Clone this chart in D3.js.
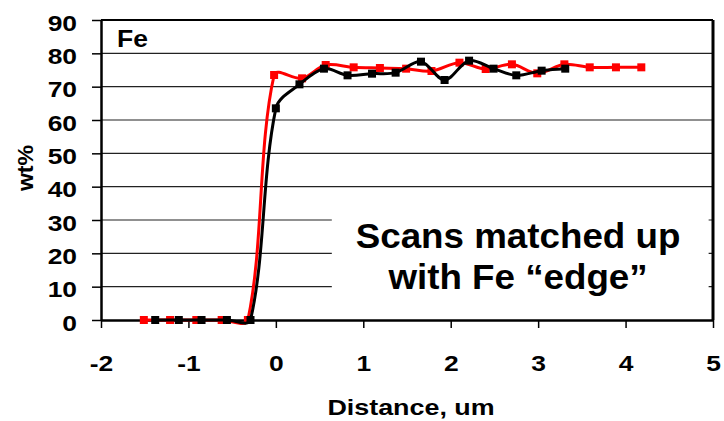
<!DOCTYPE html>
<html>
<head>
<meta charset="utf-8">
<script src="https://cdn.jsdelivr.net/npm/d3@7"></script>
<style>
  html, body { margin: 0; padding: 0; background: #fff; }
  svg { display: block; }
  text { font-family: "Liberation Sans", Arial, sans-serif; font-weight: bold; fill: #000; }
</style>
</head>
<body>
<svg id="chart" width="724" height="421"></svg>
<script>
// Fe concentration profiles across the edge (two scans, aligned at x = 0)
const scanBlackX = [-1.38, -1.11, -0.85, -0.56, -0.29, 0.00, 0.27, 0.55, 0.82, 1.10, 1.37, 1.66, 1.93, 2.21, 2.49, 2.75, 3.04, 3.31];
const scanBlackY = [0, 0, 0, 0, 0, 63.5, 70.7, 75.4, 73.4, 73.9, 74.2, 77.5, 72.0, 77.8, 75.4, 73.4, 74.8, 75.4];
const scanRedX = [-1.51, -1.21, -0.91, -0.62, -0.32, -0.02, 0.30, 0.57, 0.89, 1.19, 1.49, 1.78, 2.10, 2.40, 2.70, 2.99, 3.30, 3.59, 3.89, 4.18];
const scanRedY = [0, 0, 0, 0, 0, 73.5, 72.5, 76.5, 75.8, 75.6, 75.4, 74.7, 77.2, 75.3, 76.7, 74.0, 76.7, 75.8, 75.8, 75.8];
const xTicks = [-2, -1, 0, 1, 2, 3, 4, 5];
const yTicks = [0, 10, 20, 30, 40, 50, 60, 70, 80, 90];

const svg = d3.select("#chart");
const margin = { left: 101, top: 20, right: 11, bottom: 101 };
const W = 724 - margin.left - margin.right;
const H = 421 - margin.top - margin.bottom;

const x = d3.scaleLinear().domain([-2, 5]).range([0, W]);
const y = d3.scaleLinear().domain([0, 90]).range([H, 0]);

const g = svg.append("g").attr("transform", `translate(${margin.left},${margin.top})`);

// horizontal gridlines
g.append("g")
  .selectAll("line")
  .data(yTicks.filter(v => v > 0 && v < 90))
  .join("line")
  .attr("x1", 0).attr("x2", W)
  .attr("y1", d => y(d)).attr("y2", d => y(d))
  .attr("stroke", "#222").attr("stroke-width", 1.2);

// plot border (top and right)
g.append("line").attr("x1", 0).attr("x2", W).attr("y1", 0).attr("y2", 0)
  .attr("stroke", "#000").attr("stroke-width", 2);
g.append("line").attr("x1", W).attr("x2", W).attr("y1", 0).attr("y2", H)
  .attr("stroke", "#000").attr("stroke-width", 3);

// axes
const fontSize = 22, stretch = 1.2;
const hyphenFmt = d => String(d).replace("\u2212", "-");
const yAxis = d3.axisLeft(y).tickValues(yTicks).tickSize(9).tickSizeOuter(0).tickPadding(0).tickFormat(hyphenFmt);
const yg = g.append("g").call(yAxis);
yg.select(".domain").attr("stroke", "#000").attr("stroke-width", 2.5);
yg.selectAll(".tick line").attr("stroke", "#000").attr("stroke-width", 1.5);
yg.selectAll(".tick text")
  .attr("x", null).attr("dy", null)
  .attr("text-anchor", "end")
  .attr("font-size", fontSize)
  .attr("transform", `translate(-24,10) scale(${stretch},1)`);

const xAxis = d3.axisBottom(x).tickValues(xTicks).tickSize(8).tickSizeOuter(0).tickPadding(0).tickFormat(hyphenFmt);
const xg = g.append("g").attr("transform", `translate(0,${H})`).call(xAxis);
xg.select(".domain").attr("stroke", "#000").attr("stroke-width", 2.5);
xg.selectAll(".tick line").attr("stroke", "#000").attr("stroke-width", 1.5);
xg.selectAll(".tick text")
  .attr("y", null).attr("dy", null)
  .attr("font-size", fontSize)
  .attr("transform", `translate(0,51) scale(${stretch},1)`);

// axis titles
svg.append("text")
  .attr("text-anchor", "middle").attr("font-size", 22)
  .attr("transform", `translate(33,168) rotate(-90) scale(1.05,1)`)
  .text("wt%");
svg.append("text")
  .attr("text-anchor", "middle").attr("font-size", 21.5)
  .attr("transform", `translate(411,415) scale(1.25,1)`)
  .text("Distance, um");

// element label
g.append("text")
  .attr("font-size", 23)
  .attr("transform", `translate(16,27) scale(1.15,1)`)
  .text("Fe");

// smoothed polyline through pixel points: cubic Bezier segments whose
// tangent handles are weighted by the neighbouring segment lengths
function smoothPath(pts) {
  const p = d3.path();
  const n = pts.length;
  const dist = (a, b) => Math.hypot(b[0] - a[0], b[1] - a[1]);
  p.moveTo(pts[0][0], pts[0][1]);
  for (let i = 0; i < n - 1; i++) {
    const p0 = pts[Math.max(i - 1, 0)], p1 = pts[i], p2 = pts[i + 1], p3 = pts[Math.min(i + 2, n - 1)];
    const d01 = dist(p0, p1), d12 = dist(p1, p2), d23 = dist(p2, p3);
    const s1 = d12 > 0 ? (2 * d12 / (d01 + d12)) / 6 : 0;
    const s2 = d12 > 0 ? (2 * d12 / (d12 + d23)) / 6 : 0;
    const c1 = [p1[0] + (p2[0] - p0[0]) * s1, p1[1] + (p2[1] - p0[1]) * s1];
    const c2 = [p2[0] - (p3[0] - p1[0]) * s2, p2[1] - (p3[1] - p1[1]) * s2];
    p.bezierCurveTo(c1[0], c1[1], c2[0], c2[1], p2[0], p2[1]);
  }
  return p.toString();
}

// series
const series = [
  { xs: scanRedX, ys: scanRedY, color: "#ff0000" },
  { xs: scanBlackX, ys: scanBlackY, color: "#000000" }
];
const ms = 8;
series.forEach(s => {
  const pts = s.xs.map((v, i) => [x(v), y(s.ys[i])]);
  g.append("path").attr("d", smoothPath(pts))
    .attr("fill", "none").attr("stroke", s.color).attr("stroke-width", 3)
    .attr("stroke-linejoin", "round");
  g.append("g").selectAll("rect").data(pts).join("rect")
    .attr("x", d => d[0] - ms / 2).attr("y", d => d[1] - ms / 2)
    .attr("width", ms).attr("height", ms)
    .attr("fill", s.color);
});

// annotation box
g.append("rect")
  .attr("x", x(0.64)).attr("y", y(36.5))
  .attr("width", x(4.95) - x(0.64)).attr("height", y(0.6) - y(36.5))
  .attr("fill", "#fff");
const note = g.append("text").attr("text-anchor", "middle").attr("font-size", 35);
note.append("tspan").attr("x", 0).attr("y", 0).text("Scans matched up");
note.append("tspan").attr("x", 0).attr("y", 41).text("with Fe \u201cedge\u201d");
note.attr("transform", `translate(${x(2.77)},${y(21.7)}) scale(1.05,1)`);
</script>
</body>
</html>
